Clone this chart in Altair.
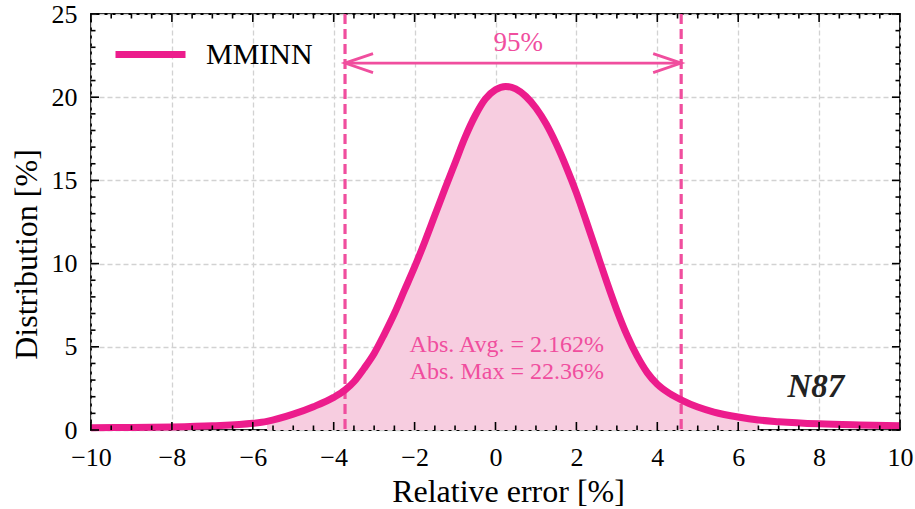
import altair as alt
import pandas as pd

# ---------------- data ----------------
err_x = [-10, -9, -8, -7, -6, -5.65, -5, -4.5, -4, -3.72, -3.5, -3.25, -3.0, -2.75, -2.5,
         -2.25, -2.0, -1.75, -1.5, -1.25, -1.0, -0.75, -0.5, -0.25, 0.0, 0.25, 0.5, 0.75,
         1.0, 1.25, 1.5, 1.75, 2.0, 2.25, 2.5, 2.75, 3.0, 3.25, 3.5, 3.75, 4.0, 4.3, 4.6,
         5.0, 5.4, 6.0, 6.5, 7.0, 8.0, 9.0, 10]
dist_y = [0.14, 0.15, 0.18, 0.25, 0.4, 0.52, 0.95, 1.4, 1.96, 2.4, 2.9, 3.7, 4.6, 5.75, 7.0,
          8.4, 9.8, 11.3, 12.9, 14.5, 16.05, 17.6, 18.9, 19.9, 20.45, 20.65, 20.5, 20.05,
          19.35, 18.4, 17.2, 15.8, 14.25, 12.5, 10.7, 8.9, 7.2, 5.7, 4.45, 3.45, 2.75, 2.2, 1.8,
          1.38, 1.08, 0.78, 0.6, 0.5, 0.37, 0.3, 0.25]
series_name = "MMINN"
fill_range = [-5.65, 6.5]
ci_bounds = [-3.72, 4.59]
arrow_y = 22.05
ci_label = "95%"
ci_label_pos = [0.56, 23.26]
stats_lines = ["Abs. Avg. = 2.162%", "Abs. Max = 22.36%"]
stats_x = 0.28
stats_y = [5.1, 3.5]
material = "N87"
material_pos = [7.92, 2.6]

x_major = list(range(-10, 11, 2))
x_minor = [v / 2 for v in range(-20, 21) if (v / 2) % 2 != 0]
y_major = list(range(0, 26, 5))
y_minor = [v for v in range(0, 26) if v % 5 != 0]

W, H = 809, 416
LINE_C = "#EC1C8C"
ACC_C = "#F04E9E"
FILL_C = "#F7CDE0"
FONT = "Liberation Serif"

curve = pd.DataFrame({"x": err_x, "y": dist_y, "s": series_name})

xs = alt.Scale(domain=[-10, 10], nice=False, zero=False)
ys = alt.Scale(domain=[0, 25], nice=False, zero=False)

xaxis = alt.Axis(values=x_major, labelBaseline="alphabetic", labelPadding=35,
                 title="Relative error [%]", titleBaseline="alphabetic", titleY=71,
                 titleX=417, titleAlign="center")
yaxis = alt.Axis(values=y_major, labelPadding=14,
                 title="Distribution [%]", titleAngle=270, titleAlign="center",
                 titleBaseline="middle", titleX=-65, titleY=240)

base = alt.Chart(curve)

area = base.mark_area(color=FILL_C, opacity=1, interpolate="monotone").encode(
    x=alt.X("x:Q", scale=xs, axis=xaxis),
    y=alt.Y("y:Q", scale=ys, axis=yaxis),
).transform_filter(
    (alt.datum.x >= fill_range[0]) & (alt.datum.x <= fill_range[1])
)

line = base.mark_line(strokeWidth=7, interpolate="monotone").encode(
    x=alt.X("x:Q", scale=xs, axis=xaxis),
    y=alt.Y("y:Q", scale=ys, axis=yaxis),
    color=alt.Color("s:N", scale=alt.Scale(domain=[series_name], range=[LINE_C]),
                    legend=alt.Legend(title=None, orient="none", legendX=21, legendY=2,
                                      symbolType="stroke", symbolSize=4900,
                                      symbolStrokeWidth=7, labelFont=FONT,
                                      labelFontSize=30, labelColor="black",
                                      labelOffset=17, padding=0)),
)

bounds_df = pd.DataFrame({"x": ci_bounds})
vlines = alt.Chart(bounds_df).mark_rule(color=ACC_C, strokeWidth=3.2,
                                        strokeDash=[10, 5]).encode(
    x=alt.X("x:Q", scale=xs, axis=xaxis), y=alt.value(0), y2=alt.value(H))

arrow_df = pd.DataFrame({"x1": [ci_bounds[0]], "x2": [ci_bounds[1]], "y": [arrow_y]})
arrow = alt.Chart(arrow_df).mark_rule(color=ACC_C, strokeWidth=2.8).encode(
    x=alt.X("x1:Q", scale=xs, axis=xaxis), x2="x2:Q",
    y=alt.Y("y:Q", scale=ys, axis=yaxis))

head_df = pd.DataFrame({"x": ci_bounds, "y": [arrow_y, arrow_y], "side": ["l", "r"]})
head_l = alt.Chart(head_df).mark_point(
    shape="M1,-0.34L0,0L1,0.34", size=3136, filled=False, stroke=ACC_C,
    strokeWidth=2.8, opacity=1).encode(
    x=alt.X("x:Q", scale=xs, axis=xaxis), y=alt.Y("y:Q", scale=ys, axis=yaxis)
).transform_filter(alt.datum.side == "l")
head_r = alt.Chart(head_df).mark_point(
    shape="M-1,-0.34L0,0L-1,0.34", size=3136, filled=False, stroke=ACC_C,
    strokeWidth=2.8, opacity=1).encode(
    x=alt.X("x:Q", scale=xs, axis=xaxis), y=alt.Y("y:Q", scale=ys, axis=yaxis)
).transform_filter(alt.datum.side == "r")

ci_text = alt.Chart(pd.DataFrame({"x": [ci_label_pos[0]], "y": [ci_label_pos[1]],
                                  "t": [ci_label]})).mark_text(
    font=FONT, fontSize=27, color=ACC_C, baseline="middle", align="center").encode(
    x=alt.X("x:Q", scale=xs, axis=xaxis), y=alt.Y("y:Q", scale=ys, axis=yaxis), text="t:N")

stats_text = alt.Chart(pd.DataFrame({"x": [stats_x] * 2, "y": stats_y,
                                     "t": stats_lines})).mark_text(
    font=FONT, fontSize=24, color=ACC_C, baseline="middle", align="center").encode(
    x=alt.X("x:Q", scale=xs, axis=xaxis), y=alt.Y("y:Q", scale=ys, axis=yaxis), text="t:N")

mat_text = alt.Chart(pd.DataFrame({"x": [material_pos[0]], "y": [material_pos[1]],
                                   "t": [material]})).mark_text(
    font=FONT, fontSize=33, fontWeight="bold", fontStyle="italic", color="#222222",
    baseline="middle", align="center").encode(
    x=alt.X("x:Q", scale=xs, axis=xaxis), y=alt.Y("y:Q", scale=ys, axis=yaxis), text="t:N")

# inward ticks on all four sides
def xticks(vals, ln):
    df = pd.DataFrame({"v": vals})
    b = alt.Chart(df).mark_rule(color="black", strokeWidth=1.6).encode(
        x=alt.X("v:Q", scale=xs, axis=xaxis), y=alt.value(H), y2=alt.value(H - ln))
    t = alt.Chart(df).mark_rule(color="black", strokeWidth=1.6).encode(
        x=alt.X("v:Q", scale=xs, axis=xaxis), y=alt.value(0), y2=alt.value(ln))
    return [b, t]

def yticks(vals, ln):
    df = pd.DataFrame({"v": vals})
    l = alt.Chart(df).mark_rule(color="black", strokeWidth=1.6).encode(
        y=alt.Y("v:Q", scale=ys, axis=yaxis), x=alt.value(0), x2=alt.value(ln))
    r = alt.Chart(df).mark_rule(color="black", strokeWidth=1.6).encode(
        y=alt.Y("v:Q", scale=ys, axis=yaxis), x=alt.value(W), x2=alt.value(W - ln))
    return [l, r]

tick_layers = xticks(x_major, 8) + xticks(x_minor, 4.5) + yticks(y_major, 8) + yticks(y_minor, 4.5)

chart = alt.layer(
    area, vlines, line, arrow, head_l, head_r, ci_text, stats_text, mat_text,
    *tick_layers
).properties(
    width=W, height=H,
    background="white",
    autosize=alt.AutoSizeParams(type="none"),
    padding={"left": 91, "top": 14, "right": 15, "bottom": 79},
).configure_view(
    stroke="black", strokeWidth=1.8
).configure_axis(
    grid=True, gridDash=[5, 3], gridColor="#d2d2d2", gridWidth=1.3,
    ticks=False, tickSize=0, domain=False,
    labelFont=FONT, labelFontSize=26, labelColor="black", labelFlush=False,
    titleFont=FONT, titleFontSize=32, titleFontWeight="normal", titleColor="black",
)

chart.save("out.html", embed_options={"renderer": "svg", "actions": False})
